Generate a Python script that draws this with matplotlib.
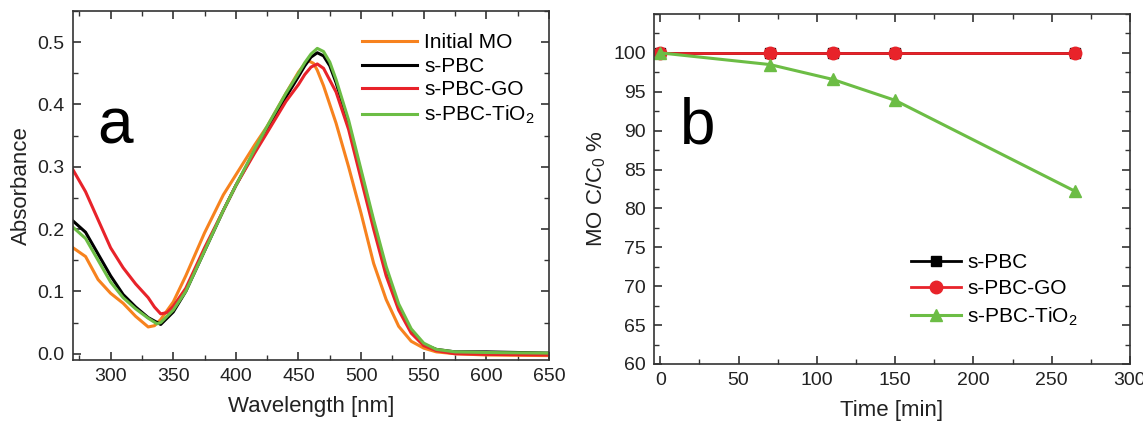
import numpy as np
import matplotlib
matplotlib.use("Agg")
import matplotlib.pyplot as plt
from matplotlib.ticker import MultipleLocator

plt.rcParams['font.family'] = ['Liberation Sans', 'DejaVu Sans']
plt.rcParams['mathtext.default'] = 'regular'

# ---- panel a : UV-vis spectra ----
wl_mo = [270, 280, 290, 300, 310, 320, 330, 335, 340, 350, 360, 375, 390, 400, 415, 425, 440,
         450, 455, 458, 462, 465, 470, 480, 490, 500, 510, 520, 530, 540, 550, 560, 575, 600, 650]
abs_mo = [0.170, 0.156, 0.119, 0.097, 0.081, 0.060, 0.043, 0.045, 0.055, 0.083, 0.125, 0.194,
          0.255, 0.287, 0.335, 0.365, 0.418, 0.452, 0.465, 0.470, 0.466, 0.455, 0.430, 0.370,
          0.300, 0.225, 0.145, 0.087, 0.044, 0.020, 0.009, 0.003, 0.000, -0.002, -0.003]

wl_pbc = [270, 280, 290, 300, 310, 320, 330, 340, 350, 360, 375, 390, 400, 415, 425, 440, 450,
          455, 460, 465, 470, 475, 480, 490, 500, 510, 520, 530, 540, 550, 560, 575, 600, 650]
abs_pbc = [0.213, 0.195, 0.160, 0.125, 0.095, 0.075, 0.058, 0.047, 0.067, 0.100, 0.165, 0.230,
           0.270, 0.325, 0.360, 0.412, 0.445, 0.462, 0.476, 0.483, 0.478, 0.462, 0.435, 0.370,
           0.290, 0.210, 0.135, 0.075, 0.037, 0.015, 0.007, 0.003, 0.003, 0.001]

wl_go = [270, 280, 290, 300, 310, 320, 330, 335, 340, 345, 350, 360, 375, 390, 400, 415, 425,
         440, 450, 455, 460, 465, 470, 480, 490, 500, 510, 520, 530, 540, 550, 560, 575, 600, 650]
abs_go = [0.295, 0.260, 0.215, 0.170, 0.138, 0.112, 0.090, 0.075, 0.064, 0.066, 0.076, 0.105,
          0.170, 0.230, 0.270, 0.322, 0.355, 0.405, 0.432, 0.448, 0.460, 0.465, 0.458, 0.420,
          0.360, 0.280, 0.200, 0.125, 0.070, 0.033, 0.013, 0.005, 0.000, -0.001, -0.002]

wl_tio2 = [270, 280, 290, 300, 310, 320, 330, 337, 340, 350, 360, 375, 390, 400, 415, 425, 440,
           450, 455, 460, 465, 470, 475, 480, 490, 500, 510, 520, 530, 540, 550, 560, 575, 600,
           650]
abs_tio2 = [0.203, 0.185, 0.150, 0.115, 0.090, 0.072, 0.057, 0.048, 0.050, 0.070, 0.100, 0.165,
            0.230, 0.270, 0.328, 0.365, 0.418, 0.450, 0.467, 0.481, 0.490, 0.485, 0.468, 0.440,
            0.375, 0.295, 0.215, 0.140, 0.080, 0.040, 0.017, 0.007, 0.003, 0.002, 0.001]

# ---- panel b : degradation ----
time_min = [0, 70, 110, 150, 265]
c_pbc = [100, 100, 100, 100, 100]
c_go = [100, 100, 100, 100, 100]
c_tio2 = [100, 98.5, 96.6, 93.9, 82.2]

orange = '#f7821e'
red = '#e8232a'
green = '#6cbd45'

fig = plt.figure(figsize=(11.43, 4.23), dpi=100)
ax1 = fig.add_axes([0.0639, 0.149, 0.4164, 0.825])
ax2 = fig.add_axes([0.5722, 0.1395, 0.4164, 0.8274])


def style(ax):
    for s in ax.spines.values():
        s.set_color('#333333')
        s.set_linewidth(1.2)
    ax.tick_params(which='both', direction='in', top=True, right=True, colors='#333333',
                   labelcolor='#222222', labelsize=14)
    ax.tick_params(which='major', length=6, width=1.2, pad=6)
    ax.tick_params(which='minor', length=3.5, width=1.0)


ax1.plot(wl_mo, abs_mo, color=orange, lw=2.2, label='Initial MO')
ax1.plot(wl_pbc, abs_pbc, color='black', lw=2.2, label='s-PBC')
ax1.plot(wl_go, abs_go, color=red, lw=2.2, label='s-PBC-GO')
ax1.plot(wl_tio2, abs_tio2, color=green, lw=2.2, label='s-PBC-TiO$_2$')
ax1.set_xlim(270, 650)
ax1.set_ylim(-0.01, 0.55)
ax1.xaxis.set_major_locator(MultipleLocator(50))
ax1.xaxis.set_minor_locator(MultipleLocator(25))
ax1.set_yticks([0.0, 0.1, 0.2, 0.3, 0.4, 0.5])
ax1.set_yticklabels(['0.0', '0.1', '0.2', '0.3', '0.4', '0.5'])
ax1.yaxis.set_minor_locator(MultipleLocator(0.05))
ax1.set_xlabel('Wavelength [nm]', fontsize=16, color='#222222', labelpad=8)
ax1.set_ylabel('Absorbance', fontsize=16, color='#222222')
ax1.text(0.05, 0.62, 'a', transform=ax1.transAxes, fontsize=46, color='black')
ax1.legend(loc='upper right', bbox_to_anchor=(1.0, 0.978), frameon=False, fontsize=15,
           handlelength=2.6, handletextpad=0.35, labelspacing=0.22, borderaxespad=0.3)
style(ax1)

ax2.plot(time_min, c_pbc, color='black', lw=2, marker='s', ms=7, label='s-PBC')
ax2.plot(time_min, c_go, color=red, lw=2, marker='o', ms=9, label='s-PBC-GO')
ax2.plot(time_min, c_tio2, color=green, lw=2.2, marker='^', ms=9, label='s-PBC-TiO$_2$')
ax2.set_xlim(-4, 300)
ax2.set_ylim(60, 105)
ax2.xaxis.set_major_locator(MultipleLocator(50))
ax2.xaxis.set_minor_locator(MultipleLocator(25))
ax2.set_yticks([60, 65, 70, 75, 80, 85, 90, 95, 100])
ax2.yaxis.set_minor_locator(MultipleLocator(2.5))
ax2.set_xlabel('Time [min]', fontsize=16, color='#222222', labelpad=8)
ax2.set_ylabel('MO C/C$_0$ %', fontsize=16, color='#222222')
ax2.text(0.055, 0.63, 'b', transform=ax2.transAxes, fontsize=46, color='black')
ax2.legend(loc='lower right', bbox_to_anchor=(0.93, 0.05), frameon=False, fontsize=15,
           handlelength=2.4, handletextpad=0.3, labelspacing=0.35)
style(ax2)

fig.savefig('out.png', dpi=100)
